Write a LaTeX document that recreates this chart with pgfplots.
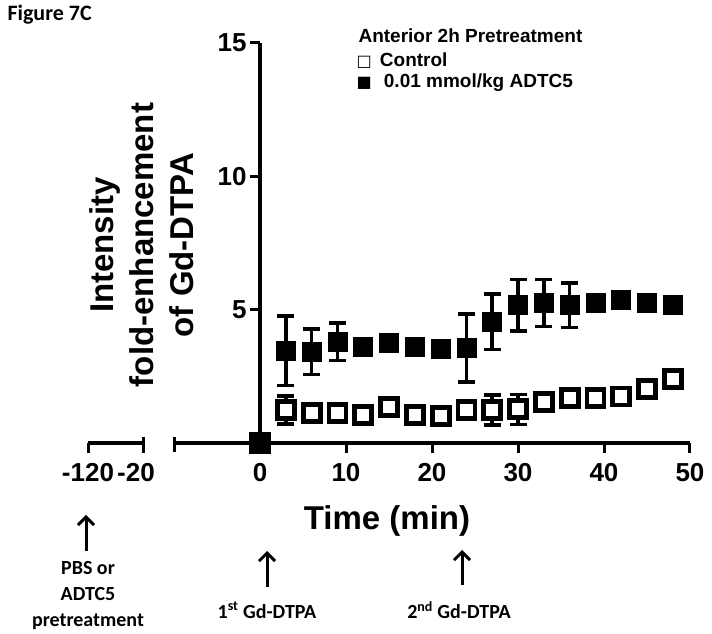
\documentclass[border=0pt]{standalone}
\usepackage{fontspec}
\setmainfont{Liberation Sans}
\newfontfamily\carlito{Carlito}
\newfontfamily\dejavu{DejaVu Sans}
\usepackage{pgfplots}
\pgfplotsset{compat=1.18}
\usetikzlibrary{arrows.meta}
\begin{document}
\begin{tikzpicture}[x=1pt,y=1pt]
\path[use as bounding box] (0,0) rectangle (712,634);
\pgfplotsset{
  brk/.style={
    scale only axis, clip=false, height=400pt, ymin=0, ymax=15,
    axis line style={line width=3.2pt, black},
    every tick/.style={line width=3pt, black},
    major tick length=10pt, tick align=outside,
    ticklabel style={font=\fontsize{26}{26}\selectfont\bfseries},
    xticklabel style={yshift=-7pt},
    hide obscured x ticks=false, hide obscured y ticks=false,
  },
  eb/.style={only marks, mark=none, forget plot,
    error bars/.cd, y dir=both, y explicit,
    error bar style={line width=3.5pt, black},
    error mark options={rotate=90, line width=3.5pt, mark size=8.5pt, black}},
}
% left (broken) part of the time axis
\begin{axis}[brk, at={(88pt,191pt)}, anchor=south west, width=55pt,
  xmin=-120, xmax=-20, axis x line*=bottom, hide y axis,
  xtick={-120,-20}, xticklabels={-120,\hspace*{-14pt}-20}]
  \draw[line width=3pt] ([yshift=-10pt]axis cs:-20,0) -- ([yshift=6pt]axis cs:-20,0);
\end{axis}
% main axis
\begin{axis}[brk, at={(174pt,191pt)}, anchor=south west, width=516pt,
  xmin=-10, xmax=50, axis x line*=bottom, axis y line*=middle,
  xtick={0,10,20,30,40,50}, xticklabels={0,10,20,30,40,50},
  ytick={5,10,15}, yticklabels={5,10,15}]
  \draw[line width=3pt] ([yshift=-9pt]axis cs:-10,0) -- ([yshift=6pt]axis cs:-10,0);
  % error bars (drawn first, behind the markers)
  \addplot[eb] coordinates {
    (0,0) +- (0,0)
    (3,1.24) +- (0,0.53)
    (6,1.11) +- (0,0.1)
    (9,1.11) +- (0,0.1)
    (12,1.05) +- (0,0.1)
    (15,1.34) +- (0,0.2)
    (18,1.05) +- (0,0.1)
    (21,1.01) +- (0,0.1)
    (24,1.24) +- (0,0.3)
    (27,1.24) +- (0,0.56)
    (30,1.26) +- (0,0.56)
    (33,1.55) +- (0,0.2)
    (36,1.68) +- (0,0.1)
    (39,1.68) +- (0,0.1)
    (42,1.74) +- (0,0.1)
    (45,2.02) +- (0,0.1)
    (48,2.39) +- (0,0.1)
  };
  \addplot[eb] coordinates {
    (0,0) +- (0,0)
    (3,3.46) +- (0,1.3)
    (6,3.42) +- (0,0.86)
    (9,3.80) +- (0,0.7)
    (12,3.61) +- (0,0.3)
    (15,3.75) +- (0,0.1)
    (18,3.61) +- (0,0.3)
    (21,3.52) +- (0,0.1)
    (24,3.56) +- (0,1.27)
    (27,4.55) +- (0,1.04)
    (30,5.17) +- (0,0.97)
    (33,5.25) +- (0,0.88)
    (36,5.17) +- (0,0.83)
    (39,5.25) +- (0,0.2)
    (42,5.36) +- (0,0.1)
    (45,5.25) +- (0,0.1)
    (48,5.17) +- (0,0.25)
  };
  % Control (open squares)
  \addplot[only marks, mark=square*, mark size=8.5pt,
    mark options={draw=black, fill=white, line width=4.8pt}]
  coordinates {
    (0,0) (3,1.24) (6,1.11) (9,1.11) (12,1.05) (15,1.34) (18,1.05) (21,1.01)
    (24,1.24) (27,1.24) (30,1.26) (33,1.55) (36,1.68) (39,1.68) (42,1.74)
    (45,2.02) (48,2.39)
  };
  % 0.01 mmol/kg ADTC5 (filled squares)
  \addplot[only marks, mark=square*, mark size=9.5pt,
    mark options={draw=black, fill=black, line width=0.5pt}]
  coordinates {
    (0,0) (3,3.46) (6,3.42) (9,3.80) (12,3.61) (15,3.75) (18,3.61) (21,3.52)
    (24,3.56) (27,4.55) (30,5.17) (33,5.25) (36,5.17) (39,5.25) (42,5.36)
    (45,5.25) (48,5.17)
  };
\end{axis}
% texts
\node[anchor=base west, font=\carlito\bfseries\fontsize{22}{22}\selectfont] at (4,613) {Figure 7C};
\node[anchor=base west, font=\bfseries\fontsize{19}{19}\selectfont] at (355,591) {Anterior 2h Pretreatment};
\node[anchor=base west, font=\bfseries\fontsize{19}{19}\selectfont] at (353,567) {{\dejavu\fontsize{16}{16}\selectfont □}\hspace{3pt} Control};
\node[anchor=base west, font=\bfseries\fontsize{19}{19}\selectfont] at (353,546) {{\dejavu\fontsize{16}{16}\selectfont ■}\hspace{7pt} 0.01 mmol/kg ADTC5};
\node[rotate=90, align=center, font=\bfseries\fontsize{33}{40}\selectfont] at (142,389) {Intensity\\fold-enhancement\\of Gd-DTPA};
\node[font=\bfseries\fontsize{33}{33}\selectfont] at (387,113) {Time (min)};
\draw[line width=3pt, -{Straight Barb[length=8pt,width=16pt]}] (86,83) -- (86,119);
\draw[line width=3pt, -{Straight Barb[length=8pt,width=16pt]}] (267,47) -- (267,83);
\draw[line width=3pt, -{Straight Barb[length=8pt,width=16pt]}] (462,49) -- (462,84);
\node[align=center, font=\carlito\bfseries\fontsize{20}{26}\selectfont] at (88,38) {PBS or\\ADTC5\\pretreatment};
\node[font=\carlito\bfseries\fontsize{20}{20}\selectfont] at (267,24) {1\textsuperscript{st} Gd-DTPA};
\node[font=\carlito\bfseries\fontsize{20}{20}\selectfont] at (459,24) {2\textsuperscript{nd} Gd-DTPA};
\end{tikzpicture}
\end{document}
